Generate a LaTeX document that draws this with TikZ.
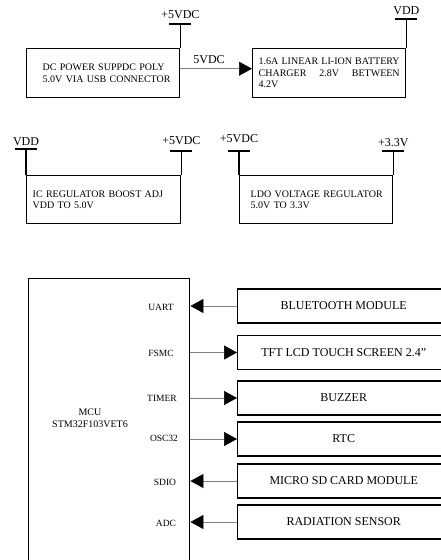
\documentclass[tikz,border=0pt]{standalone}
\usepackage{fontspec}
\setmainfont{Liberation Serif}
\usetikzlibrary{arrows.meta,positioning,calc}

\begin{document}
\begin{tikzpicture}[x=1pt,y=-1pt,
  box/.style={draw, line width=1.4pt, font=\fontsize{10}{11.5}\selectfont, align=left},
  blk/.style={draw, line width=1.4pt, anchor=west, minimum width=212pt, minimum height=34pt, font=\fontsize{12}{14}\selectfont},
  pinlbl/.style={font=\fontsize{12}{14}\selectfont, inner sep=1pt},
  port/.style={font=\fontsize{9.5}{11}\selectfont},
  rail/.style={line width=1.4pt},
  sig/.style={draw=gray, line width=0.7pt, -{Triangle[length=13pt,width=14pt,color=black]}},
]
\useasboundingbox (0,0) rectangle (441,560);
\clip (0,0) rectangle (441,560);

% power supply chain
\node[box, anchor=north west, minimum height=49pt, inner xsep=16pt, text width=121pt] (dc) at (26,48)
  {\mbox{DC POWER SUPPDC POLY}\\\mbox{5.0V VIA USB CONNECTOR}};
\node[box, anchor=north west, minimum height=49pt, inner xsep=6pt, text width=141pt] (chg) at (252,48)
  {1.6A\hfill LINEAR\hfill LI-ION\hfill BATTERY\\CHARGER\hfill 2.8V\hfill BETWEEN\\4.2V};
\node[box, anchor=north west, minimum height=48pt, inner xsep=6pt, text width=142pt] (ic) at (26,175)
  {\mbox{IC REGULATOR BOOST ADJ}\\VDD TO 5.0V};
\node[box, anchor=north west, minimum height=48pt, inner xsep=11pt, text width=131pt] (ldo) at (239,175)
  {\mbox{LDO VOLTAGE REGULATOR}\\5.0V TO 3.3V};

\draw[sig] ($(dc.east)+(0,-4.5)$) -- node[pinlbl, pos=0.4, above=4pt]{5VDC} ($(chg.west)+(0,-4.5)$);

% supply pins
\path (dc.north east) ++(0,-24) coordinate (t1);
\path (chg.north east) ++(0,-29) coordinate (t2);
\path (ic.north west) ++(0,-26) coordinate (t3);
\path (ic.north east) ++(0,-24) coordinate (t4);
\path (ldo.north west) ++(0,-24) coordinate (t5);
\path (ldo.north east) ++(0,-24) coordinate (t6);

\node[pinlbl, above=4pt of t1] (t1l) {+5VDC};
\node[pinlbl, above=3pt of t2] (t2l) {VDD};
\node[pinlbl, above=2pt of t3] (t3l) {VDD};
\node[pinlbl, above=5pt of t4] (t4l) {+5VDC};
\node[pinlbl, above=7pt of t5] (t5l) {+5VDC};
\node[pinlbl, above=3pt of t6] (t6l) {+3.3V};

\draw[rail] ($(t1)+(-11,0)$) -- ($(t1)+(11,0)$) (t1) -- (dc.north east);
\draw[rail] ($(t2)+(-11,0)$) -- ($(t2)+(11,0)$) (t2) -- (chg.north east);
\draw[rail] ($(t3)+(-11,0)$) -- ($(t3)+(11,0)$) (t3) -- (ic.north west);
\draw[rail] ($(t4)+(-11,0)$) -- ($(t4)+(11,0)$) (t4) -- (ic.north east);
\draw[rail] ($(t5)+(-11,0)$) -- ($(t5)+(11,0)$) (t5) -- (ldo.north west);
\draw[rail] ($(t6)+(-11,0)$) -- ($(t6)+(11,0)$) (t6) -- (ldo.north east);

% microcontroller
\node[draw, line width=1.4pt, anchor=north west, minimum width=161pt, minimum height=330pt] (mcu) at (28,278) {};
\node[port, align=center, font=\fontsize{10}{12}\selectfont] (mcutxt) at (90,418) {MCU\\STM32F103VET6};
\node[port] (uart) at (161,307) {UART};
\node[port] (fsmc) at (161,353) {FSMC};
\node[port] (timer) at (162,398) {TIMER};
\node[port] (osc) at (164,438) {OSC32};
\node[port] (sdio) at (165,482) {SDIO};
\node[port] (adc) at (166,523) {ADC};

% peripherals
\node[blk] (bt) at (237,306) {BLUETOOTH MODULE};
\node[blk] (tft) at (237,352.5) {TFT LCD TOUCH SCREEN 2.4"};
\node[blk] (buz) at (237,398) {BUZZER};
\node[blk] (rtc) at (237,439) {RTC};
\node[blk] (sd) at (237,481) {MICRO SD CARD MODULE};
\node[blk] (rad) at (237,522) {RADIATION SENSOR};

\draw[sig] (bt.west) -- (bt.west -| mcu.east);
\draw[sig] (tft.west -| mcu.east) -- (tft.west);
\draw[sig] (buz.west -| mcu.east) -- (buz.west);
\draw[sig] (rtc.west -| mcu.east) -- (rtc.west);
\draw[sig] (sd.west) -- (sd.west -| mcu.east);
\draw[sig] (rad.west) -- (rad.west -| mcu.east);
\end{tikzpicture}
\end{document}
